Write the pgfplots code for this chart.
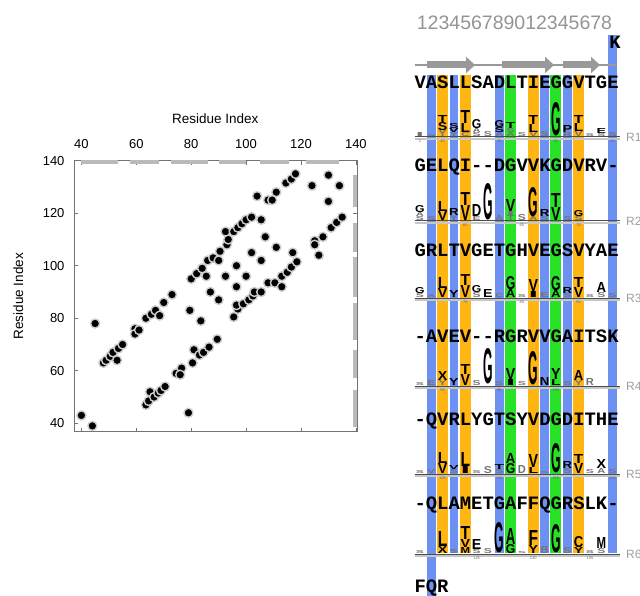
\documentclass[border=0pt]{standalone}
\usepackage{fontspec}
\setmainfont{Liberation Sans}
\newfontfamily\seqfont{Liberation Mono}
\usepackage{graphicx}
\usepackage{pgfplots}
\pgfplotsset{compat=1.18}
\usetikzlibrary{arrows.meta}

\definecolor{stripeblue}{RGB}{108,145,242}
\definecolor{stripeorange}{RGB}{255,182,18}
\definecolor{stripegreen}{RGB}{40,226,40}

% logo letter: column, bottom (px from top), height, letter
\newcommand{\LG}[4]{\node[anchor=south,inner sep=0pt] at (axis cs:#1,#2) {\resizebox{9.5pt}{#3pt}{\bfseries #4}};}
\newcommand{\LS}[4]{\node[anchor=south,inner sep=0pt,text=black!55] at (axis cs:#1,#2) {\resizebox{8pt}{#3pt}{\bfseries #4}};}
\newcommand{\hy}{\mbox{-}}

\begin{document}
\begin{tikzpicture}
\useasboundingbox (0,0) rectangle (640pt,596pt);

% ---------------- contact map ----------------
\begin{axis}[
    at={(74pt,164.3pt)}, anchor=south west,
    scale only axis, width=282.7pt, height=271pt,
    xmin=37.3, xmax=140.3, ymin=36.8, ymax=140,
    xtick={40,60,...,140}, ytick={40,60,...,140},
    xticklabel pos=upper,
    tick align=inside, major tick length=4pt,
    axis line style={black!55},
    tick style={black!55, line width=0.6pt},
    ticklabel style={font=\fontsize{13}{15}\selectfont},
    /pgf/number format/assume math mode=true,
    xticklabel style={yshift=8.5pt},
    yticklabel style={xshift=-6pt},
    xlabel={Residue Index}, ylabel={Residue Index},
    label style={font=\fontsize{13.5}{16}\selectfont},
    xlabel style={at={(axis description cs:0.5,1.1565)}, anchor=center},
    ylabel style={at={(axis description cs:-0.197,0.5)}, anchor=center},
    clip=false,
    unbounded coords=jump,
  ]
  % repeat segments along the top and right edges
  \addplot[black!27, line width=4pt] coordinates {
    (40,139.5)(53.3,139.5)(nan,nan)(57.8,139.5)(68.2,139.5)(nan,nan)
    (72.7,139.5)(86.1,139.5)(nan,nan)(90.3,139.5)(100,139.5)(nan,nan)
    (105.2,139.5)(115.8,139.5)(nan,nan)(121.8,139.5)(133.7,139.5)};
  \addplot[black!27, line width=4pt] coordinates {
    (139.5,38.5)(139.5,52.7)(nan,nan)(139.5,57.1)(139.5,67.9)(nan,nan)
    (139.5,71.7)(139.5,85.7)(nan,nan)(139.5,88)(139.5,103.5)(nan,nan)
    (139.5,105.4)(139.5,116.2)(nan,nan)(139.5,122.5)(139.5,134.6)};

  \addplot[only marks, mark=*, mark size=4.5pt,
    mark options={fill=black, draw=black!20, line width=1.4pt}] table {
x y
40 43
44 39
45 78
48 63
49 64
50.5 65.5
51.5 67
53 64
53.5 68.5
55 70
59.5 76
59.5 74
61 75.5
63.5 80
65.5 81.5
67 83
68.5 81
70 86
73 89
79 44
79.5 83
83.5 79
63.5 47
64.5 48.5
65 52
66.5 50
68 51.5
69 52.5
70.5 54
74.5 59
76.5 61
76 58.5
80.5 63
81 68
83 66
84.5 67
86.5 69
89.5 72
80 95
82 97
84 99
85.5 96
86 102
88 103
90 102
90.5 105.5
93 108
93.5 110
92.5 113
95.5 113
97 114.5
98.5 116
100 117.5
102 118.5
105.5 117.5
104 126.5
108 125
109.5 125
111 128
114.5 131.5
116.5 133
118 135
124 130.5
130 134.5
134 130.5
130 124.5
125 109.5
125 108
126.5 104
128 111
131 114.5
133 116.5
135 118.5
107 111
111 107
117 105
102 105
105.5 102
96.5 100
92.5 96
100 96
96.5 92
87 90
90 87
95.5 80.5
97 83.5
96.5 85
99 85.5
101 87
102.5 88.5
103 90
105.5 90
108 93.5
110.5 93.5
113 92
113 96
115 97.5
116.5 99.5
118.5 101.5
  };
\end{axis}

% ---------------- alignment / logos ----------------
\begin{axis}[
    at={(380pt,0pt)}, anchor=south west,
    scale only axis, width=260pt, height=596pt,
    xmin=-2.528, xmax=20.42, ymin=0, ymax=596,
    y dir=reverse, hide axis, clip=false,
  ]
  % coloured columns
  \addplot[stripeblue, line width=8.5pt] coordinates {(2,75)(2,596)};
  \addplot[stripeblue, line width=8.5pt] coordinates {(4,75)(4,553)};
  \addplot[stripeblue, line width=8.5pt] coordinates {(8,75)(8,553)};
  \addplot[stripeblue, line width=8.5pt] coordinates {(12,75)(12,553)};
  \addplot[stripeblue, line width=8.5pt] coordinates {(14,75)(14,553)};
  \addplot[stripeblue, line width=8.5pt] coordinates {(18,35)(18,553)};
  \addplot[stripeorange, line width=11pt] coordinates {(3,75)(3,553)};
  \addplot[stripeorange, line width=11pt] coordinates {(5,75)(5,553)};
  \addplot[stripeorange, line width=11pt] coordinates {(11,75)(11,553)};
  \addplot[stripeorange, line width=11pt] coordinates {(15,75)(15,553)};
  \addplot[stripegreen, line width=11pt] coordinates {(9,75)(9,553)};
  \addplot[stripegreen, line width=11pt] coordinates {(13,75)(13,553)};

  % secondary structure arrows
  \addplot[black!40, line width=2.5pt] coordinates {(0.56,65)(18.39,65)};
  \addplot[black!40, line width=7pt, -{Triangle[length=9pt,width=16pt]}] coordinates {(1.59,65)(5.86,65)};
  \addplot[black!40, line width=7pt, -{Triangle[length=9pt,width=16pt]}] coordinates {(8.21,65)(12.83,65)};
  \addplot[black!40, line width=7pt, -{Triangle[length=9pt,width=16pt]}] coordinates {(13.60,65)(16.89,65)};

  \node[anchor=base west, inner sep=0pt, text=black!42, font=\fontsize{19.5}{22}\selectfont]
    at (axis cs:0.71,29.7) {123456789012345678};

  % sequences
  \begin{scope}[every node/.style={anchor=base west, inner sep=0pt,
      font=\fontsize{18.9}{20}\selectfont\seqfont\bfseries}]
  \node at (axis cs:17.7,48.5) {K};
  \node at (axis cs:0.5,88.5) {VASLLSADLTIEGGVTGE};
  \node at (axis cs:0.5,171.5) {GELQI\hy\hy DGVVKGDVRV\hy};
  \node at (axis cs:0.5,257) {GRLTVGETGHVEGSVYAE};
  \node at (axis cs:0.5,342) {\hy AVEV\hy\hy RGRVVGAITSK};
  \node at (axis cs:0.5,425.5) {\hy QVRLYGTSYVDGDITHE};
  \node at (axis cs:0.5,509.5) {\hy QLAMETGAFFQGRSLK\hy};
  \node at (axis cs:0.5,592.5) {FQR};
  \end{scope}

  % logo R1
  \LS{1}{137}{4}{I} \LS{2}{137}{2}{S}
  \LS{3}{137}{6}{Y} \LG{3}{131}{8}{S} \LG{3}{123}{7}{T}
  \LS{4}{137}{4}{Y} \LG{4}{133}{4}{V} \LG{4}{129}{5}{S}
  \LS{5}{137}{4}{C} \LG{5}{133}{9}{L} \LG{5}{124}{13}{T}
  \LS{6}{137}{4}{S} \LS{6}{133}{4}{A} \LG{6}{129}{9}{G}
  \LS{7}{137}{5}{S}
  \LS{8}{137}{4}{A} \LG{8}{133}{5}{S} \LG{8}{128}{7}{G}
  \LS{9}{137}{4}{A} \LS{9}{133}{4}{S} \LG{9}{129}{6}{T}
  \LS{10}{137}{4}{S}
  \LS{11}{137}{4}{V} \LG{11}{133}{8}{L} \LG{11}{125}{9}{T}
  \LS{12}{137}{5}{S}
  \LG{13}{136}{33}{G}
  \LS{14}{137}{4}{R} \LG{14}{133}{7}{P}
  \LS{15}{137}{5}{V} \LG{15}{132}{8}{L} \LG{15}{124}{8}{T}
  \LS{16}{137}{3}{S}
  \LS{17}{137}{3}{S} \LG{17}{134}{5}{E}
  \LS{18}{137}{4}{S}

  % logo R2
  \LS{1}{221}{4}{S} \LS{1}{217}{4}{A} \LG{1}{213}{7}{G}
  \LS{2}{221}{4}{S}
  \LG{3}{221}{9}{V} \LG{3}{212}{10}{L}
  \LS{4}{221}{5}{Y} \LG{4}{216}{7}{R}
  \LG{5}{221}{15}{V} \LG{5}{206}{13}{T}
  \LS{6}{221}{4}{E} \LG{6}{217}{12}{D}
  \LG{7}{220}{36}{G}
  \LS{8}{221}{5}{A}
  \LS{9}{221}{5}{T} \LS{9}{216}{4}{I} \LG{9}{212}{12}{V}
  \LS{10}{221}{6}{S}
  \LS{11}{221}{4}{A} \LG{11}{217}{29}{G}
  \LS{12}{221}{4}{S} \LG{12}{217}{7}{R}
  \LG{13}{221}{13}{V} \LG{13}{208}{14}{T}
  \LS{14}{221}{4}{S}
  \LS{15}{221}{4}{S} \LG{15}{217}{6}{G}

  % logo R3
  \LS{1}{298}{4}{S} \LG{1}{294}{6}{G}
  \LS{2}{298}{3}{A}
  \LG{3}{298}{9}{V} \LG{3}{289}{11}{L}
  \LG{4}{298}{7}{Y}
  \LG{5}{298}{12}{V} \LG{5}{286}{11}{T}
  \LS{6}{298}{5}{S} \LG{6}{293}{7}{G}
  \LG{7}{298}{8}{E}
  \LS{8}{298}{4}{C}
  \LG{9}{298}{8}{A} \LG{9}{290}{13}{G}
  \LS{10}{298}{3}{S}
  \LG{11}{298}{6}{I} \LG{11}{292}{12}{V}
  \LS{12}{298}{5}{E}
  \LG{13}{298}{7}{A} \LG{13}{291}{14}{G}
  \LS{14}{298}{4}{S} \LG{14}{294}{6}{R}
  \LG{15}{298}{10}{V} \LG{15}{288}{10}{T}
  \LS{16}{298}{3}{S}
  \LS{17}{298}{5}{S} \LG{17}{293}{10}{A}
  \LS{18}{298}{4}{S}

  % logo R4
  \LS{1}{386}{3}{S} \LS{2}{386}{5}{E}
  \LS{3}{386}{5}{Y} \LG{3}{381}{9}{X}
  \LG{4}{386}{7}{Y}
  \LG{5}{386}{11}{V} \LG{5}{375}{10}{T}
  \LS{6}{386}{5}{S}
  \LG{7}{384}{35}{G}
  \LS{8}{386}{4}{S}
  \LG{9}{386}{6}{I} \LG{9}{380}{11}{V}
  \LS{10}{386}{4}{S}
  \LG{11}{385}{33}{G}
  \LG{12}{386}{8}{N}
  \LG{13}{386}{6}{L} \LG{13}{380}{11}{Y}
  \LS{14}{386}{4}{S}
  \LS{15}{386}{5}{Y} \LG{15}{381}{10}{A}
  \LS{16}{386}{7}{R}

  % logo R5
  \LS{1}{474}{3}{S} \LS{2}{474}{4}{V}
  \LG{3}{474}{10}{V} \LG{3}{464}{11}{L}
  \LS{4}{474}{4}{S} \LG{4}{470}{4}{V}
  \LG{5}{474}{7}{I} \LG{5}{467}{14}{L}
  \LS{6}{474}{3}{S}
  \LS{7}{474}{7}{S}
  \LS{8}{474}{4}{S} \LG{8}{470}{5}{T}
  \LG{9}{474}{10}{G} \LG{9}{464}{10}{A}
  \LS{10}{474}{8}{D}
  \LG{11}{474}{6}{L} \LG{11}{468}{13}{V}
  \LS{12}{474}{2}{S}
  \LG{13}{473}{29}{G}
  \LS{14}{474}{5}{S} \LG{14}{469}{7}{R}
  \LG{15}{474}{10}{V} \LG{15}{464}{9}{T}
  \LS{16}{474}{4}{S}
  \LS{17}{474}{5}{A} \LG{17}{469}{9}{X}
  \LS{18}{474}{4}{S}

  % logo R6
  \LS{1}{554}{3}{S}
  \LG{3}{554}{7}{X} \LG{3}{547}{15}{L}
  \LS{4}{554}{4}{S}
  \LG{5}{554}{6}{M} \LG{5}{548}{8}{V} \LG{5}{540}{13}{T}
  \LS{6}{554}{4}{S} \LG{6}{550}{10}{E}
  \LS{7}{554}{5}{S}
  \LG{8}{553}{30}{G}
  \LG{9}{554}{9}{G} \LG{9}{545}{16}{A}
  \LS{10}{554}{2}{S}
  \LG{11}{554}{8}{Y} \LG{11}{546}{15}{F}
  \LS{12}{554}{7}{B}
  \LG{13}{553}{28}{G}
  \LS{14}{554}{6}{S}
  \LG{15}{554}{6}{Y} \LG{15}{548}{11}{C}
  \LS{16}{554}{3}{S}
  \LS{17}{554}{5}{S} \LG{17}{549}{11}{M}

  % repeat baselines
  \addplot[black!22, line width=2.2pt] coordinates {(0.56,139)(18.65,139)};
  \addplot[black!70, line width=1pt] coordinates {(0.56,137)(18.65,137)};
  \addplot[black!22, line width=2.2pt] coordinates {(0.56,223)(18.65,223)};
  \addplot[black!70, line width=1pt] coordinates {(0.56,221)(18.65,221)};
  \addplot[black!22, line width=2.2pt] coordinates {(0.56,300)(18.65,300)};
  \addplot[black!70, line width=1pt] coordinates {(0.56,298)(18.65,298)};
  \addplot[black!22, line width=2.2pt] coordinates {(0.56,388)(18.65,388)};
  \addplot[black!70, line width=1pt] coordinates {(0.56,386)(18.65,386)};
  \addplot[black!22, line width=2.2pt] coordinates {(0.56,476)(18.65,476)};
  \addplot[black!70, line width=1pt] coordinates {(0.56,474)(18.65,474)};
  \addplot[black!22, line width=2.2pt] coordinates {(0.56,556)(18.65,556)};
  \addplot[black!70, line width=1pt] coordinates {(0.56,554)(18.65,554)};

  \begin{scope}[every node/.style={anchor=west, inner sep=0pt, text=black!38,
      font=\fontsize{12}{14}\selectfont}]
  \node at (axis cs:19.18,137) {R1};
  \node at (axis cs:19.18,221) {R2};
  \node at (axis cs:19.18,298) {R3};
  \node at (axis cs:19.18,386) {R4};
  \node at (axis cs:19.18,474) {R5};
  \node at (axis cs:19.18,554) {R6};
  \end{scope}

  \begin{scope}[every node/.style={anchor=north, inner sep=0pt, text=black!60,
      font=\fontsize{4}{4}\selectfont}]
  \node at (axis cs:1,140) {1};
  \node at (axis cs:3,140) {40}; \node at (axis cs:8,140) {45};
  \node at (axis cs:13,140) {50}; \node at (axis cs:18,140) {55};
  \node at (axis cs:5,224) {60}; \node at (axis cs:10,224) {65};
  \node at (axis cs:15,224) {70};
  \node at (axis cs:5,301) {75}; \node at (axis cs:10,301) {80};
  \node at (axis cs:15,301) {85};
  \node at (axis cs:3,389) {90}; \node at (axis cs:8,389) {95};
  \node at (axis cs:13,389) {100};
  \node at (axis cs:3,477) {105}; \node at (axis cs:8,477) {110};
  \node at (axis cs:13,477) {115}; \node at (axis cs:18,477) {120};
  \node at (axis cs:6,557) {125}; \node at (axis cs:11,557) {130};
  \node at (axis cs:16,557) {135};
  \end{scope}
\end{axis}
\end{tikzpicture}
\end{document}
